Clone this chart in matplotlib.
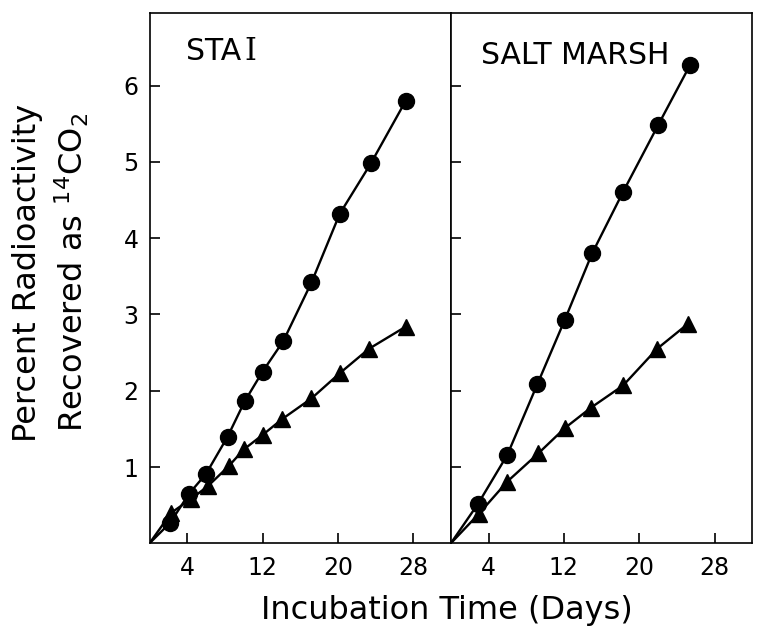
import matplotlib.pyplot as plt

# Données (jours, % radioactivité)
sta_days_circ = [0, 2.2, 4.2, 6.0, 8.3, 10.1, 12.0, 14.2, 17.2, 20.2, 23.5, 27.2]
sta_circ = [0, 0.27, 0.65, 0.91, 1.40, 1.86, 2.25, 2.65, 3.42, 4.32, 4.98, 5.80]
sta_days_tri = [0, 2.3, 4.4, 6.2, 8.4, 10.0, 12.0, 14.1, 17.2, 20.2, 23.3, 27.2]
sta_tri = [0, 0.40, 0.58, 0.75, 1.01, 1.23, 1.42, 1.63, 1.90, 2.23, 2.55, 2.84]

sm_days_circ = [0, 2.9, 6.0, 9.2, 12.1, 15.0, 18.3, 22.0, 25.4]
sm_circ = [0, 0.52, 1.16, 2.09, 2.93, 3.80, 4.61, 5.48, 6.27]
sm_days_tri = [0, 3.0, 6.0, 9.3, 12.1, 14.9, 18.3, 21.9, 25.2]
sm_tri = [0, 0.39, 0.81, 1.18, 1.51, 1.78, 2.07, 2.55, 2.88]

xticks = [4, 12, 20, 28]
yticks = [1, 2, 3, 4, 5, 6]

fig, axes = plt.subplots(1, 2, figsize=(7.59, 6.31), dpi=100, sharey=True)
plt.subplots_adjust(left=0.197, right=0.991, bottom=0.139, top=0.979, wspace=0)

panels = [
    (axes[0], sta_days_circ, sta_circ, sta_days_tri, sta_tri),
    (axes[1], sm_days_circ, sm_circ, sm_days_tri, sm_tri),
]

for ax, xc, yc, xt, yt in panels:
    ax.plot(xc, yc, color="black", lw=1.7, marker="o", ms=11.5,
            markevery=slice(1, None), zorder=3)
    ax.plot(xt, yt, color="black", lw=1.7, marker="^", ms=11.5,
            markevery=slice(1, None), zorder=3)
    ax.set_xlim(0, 32)
    ax.set_ylim(0, 6.95)
    ax.set_xticks(xticks)
    ax.set_yticks(yticks)
    ax.tick_params(direction="in", length=7, width=1.2, labelsize=17,
                   top=False, right=False)
    ax.tick_params(axis="x", pad=9)
    ax.tick_params(axis="y", pad=8)
    for s in ax.spines.values():
        s.set_linewidth(1.2)

axes[1].tick_params(labelleft=False)

# étiquettes des panneaux (chiffre romain avec empattements)
axes[0].text(0.12, 0.912, "STA", transform=axes[0].transAxes, fontsize=21.5)
axes[0].text(0.315, 0.912, "I", transform=axes[0].transAxes, fontsize=22,
             family="DejaVu Serif")
axes[1].text(0.10, 0.905, "SALT MARSH", transform=axes[1].transAxes, fontsize=21.5)

fig.text(0.068, 0.568, "Percent Radioactivity\nRecovered as $^{14}$CO$_2$",
         rotation=90, ha="center", va="center", fontsize=23, linespacing=1.3)
fig.text(0.589, 0.008, "Incubation Time (Days)", ha="center", va="bottom",
         fontsize=23)

plt.savefig("out.png", dpi=100)
